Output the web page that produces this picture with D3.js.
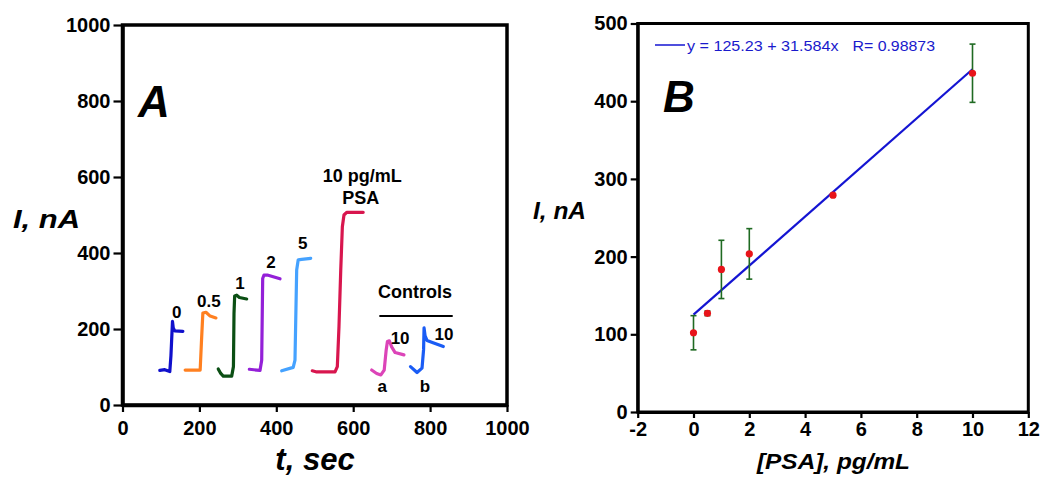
<!DOCTYPE html>
<html><head><meta charset="utf-8">
<script src="https://cdn.jsdelivr.net/npm/d3@7"></script>
<style>body{margin:0;background:#fff}svg{display:block}text{font-family:"Liberation Sans",Arial,sans-serif}</style>
</head><body>
<svg id="c" width="1050" height="489"></svg>
<script>
// ---------- Panel A data (t in sec, I in nA) ----------
const trace0   = [[97,91],[110,93],[123,88],[126,130],[130,220],[132,203],[136,195],[157,194]];
const trace05  = [[163,92],[202,92],[205.5,170],[209,242],[217,244],[228,234],[243,229]];
const trace1   = [[249,95],[255.5,83],[262,76],[284,76],[288.5,101],[290,241],[291.7,287],[297,289],[304,283],[323,279]];
const trace2   = [[330,94],[357.6,91],[362,118],[364.6,333],[368,342],[376.6,342],[409.6,332]];
const trace5   = [[414,90],[444,99],[448.6,118],[453,355],[457,382],[466,383],[489.5,386]];
const trace10  = [[493.6,90],[505,87],[552.7,87],[558.7,101],[563,206],[567.6,355],[571.8,469],[576,500],[583,507],[626,507]];
const controlA = [[648,92],[661,83],[672,79],[680.6,92],[685.8,145],[689,167],[694,169],[700,153],[709,138],[732,132]];
const controlB = [[749,101],[766,85.5],[779,97],[783,145],[784.3,203],[787,182],[792,170],[807.6,164],[834.4,154]];
const traceColors = ["#1010cc","#ff8020","#0b4f14","#9420d8","#45a2ff","#d8164e","#dc44b8","#1a5cf5"];
const traces = [trace0,trace05,trace1,trace2,trace5,trace10,controlA,controlB];
const traceLabels = [["0",141,228],["0.5",224.5,257],["1",305.6,304.5],["2",386,360],["5",468.7,410],
  ["10 pg/mL",623.7,587.6],["PSA",619.5,529],["Controls",760.7,281],["10",722,160.5],["10",836,171],["a",675.7,33.4],["b",786.7,33.7]];
const controlsRule = [[668,234],[858.8,234]];
const tTicks = [0,200,400,600,800,1000];
const iTicksA = [0,200,400,600,800,1000];

// ---------- Panel B data ----------
const psaConc = [0,0.5,1,2,5,10];
const psaCurrent = [102,127,183.5,203.5,279,436];
const psaError = [22,3,37.5,32.5,2,37.5];
const fitIntercept = 125.23, fitSlope = 31.584;
const fitRange = [0,10];
const psaTicks = [-2,0,2,4,6,8,10,12];
const iTicksB = [0,100,200,300,400,500];

const svg = d3.select("#c");
svg.append("rect").attr("width",1050).attr("height",489).attr("fill","#fff");

function styleAxis(g, w){
  g.select(".domain").attr("stroke","#000").attr("stroke-width",w);
  g.selectAll(".tick line").attr("stroke","#000").attr("stroke-width",2.2);
  g.selectAll(".tick text").attr("fill","#000").attr("font-weight","bold").attr("font-size",20)
   .attr("font-family","'Liberation Sans',Arial,sans-serif");
}
const plain = d => String(d);

// ================= Panel A =================
const xA = d3.scaleLinear().domain([0,1000]).range([122.5,507]);
const yA = d3.scaleLinear().domain([0,1000]).range([405,25]);
const A = svg.append("g");
A.append("rect").attr("x",xA(0)).attr("y",yA(1000)).attr("width",xA(1000)-xA(0)).attr("height",yA(0)-yA(1000))
  .attr("fill","none").attr("stroke","#000").attr("stroke-width",3.5);
const gxA = A.append("g").attr("transform",`translate(0,${yA(0)})`)
  .call(d3.axisBottom(xA).tickValues(tTicks).tickSize(7).tickSizeOuter(0).tickPadding(9).tickFormat(plain));
styleAxis(gxA,3.5);
const gyA = A.append("g").attr("transform",`translate(${xA(0)},0)`)
  .call(d3.axisLeft(yA).tickValues(iTicksA).tickSize(9).tickSizeOuter(0).tickPadding(3).tickFormat(plain));
styleAxis(gyA,3.5);

const lineA = d3.line().x(d=>xA(d[0])).y(d=>yA(d[1])).curve(d3.curveLinear);
traces.forEach((tr,i)=>{
  A.append("path").attr("d",lineA(tr)).attr("fill","none").attr("stroke",traceColors[i])
   .attr("stroke-width",3.2).attr("stroke-linejoin","round").attr("stroke-linecap","round");
});
A.append("path").attr("d",lineA(controlsRule)).attr("stroke","#000").attr("stroke-width",2);
traceLabels.forEach(l=>{
  A.append("text").attr("x",xA(l[1])).attr("y",yA(l[2])).attr("text-anchor","middle")
   .attr("font-weight","bold").attr("font-size", (l[0]==="Controls"||l[0]==="10 pg/mL"||l[0]==="PSA")?18:17).text(l[0]);
});
A.append("text").attr("x",138).attr("y",116.5).attr("font-size",44).attr("font-weight","bold").attr("font-style","italic").text("A");
A.append("text").attr("x",315).attr("y",470).attr("text-anchor","middle").attr("font-size",31)
  .attr("font-weight","bold").attr("font-style","italic").text("t, sec");
A.append("text").attr("x",13).attr("y",228).attr("font-size",26).attr("font-weight","bold").attr("font-style","italic")
  .attr("textLength",67).attr("lengthAdjust","spacingAndGlyphs").text("I, nA");

// ================= Panel B =================
const xB = d3.scaleLinear().domain([-2,12]).range([637.7,1028.3]);
const yB = d3.scaleLinear().domain([0,500]).range([412,23.5]);
const B = svg.append("g");
B.append("rect").attr("x",xB(-2)).attr("y",yB(500)).attr("width",xB(12)-xB(-2)).attr("height",yB(0)-yB(500))
  .attr("fill","none").attr("stroke","#000").attr("stroke-width",3);
const gxB = B.append("g").attr("transform",`translate(0,${yB(0)})`)
  .call(d3.axisBottom(xB).tickValues(psaTicks).tickSize(6).tickSizeOuter(0).tickPadding(4).tickFormat(plain));
styleAxis(gxB,3);
const gyB = B.append("g").attr("transform",`translate(${xB(-2)},0)`)
  .call(d3.axisLeft(yB).tickValues(iTicksB).tickSize(7).tickSizeOuter(0).tickPadding(3).tickFormat(plain));
styleAxis(gyB,3);

// fit line
B.append("line").attr("x1",xB(fitRange[0])).attr("y1",yB(fitIntercept+fitSlope*fitRange[0]))
  .attr("x2",xB(fitRange[1])).attr("y2",yB(fitIntercept+fitSlope*fitRange[1]))
  .attr("stroke","#1414d2").attr("stroke-width",2.2);
// error bars
psaConc.forEach((c,i)=>{
  const x = xB(c), y1 = yB(psaCurrent[i]-psaError[i]), y2 = yB(psaCurrent[i]+psaError[i]);
  const g = B.append("g").attr("stroke","#1f6a22").attr("stroke-width",1.6);
  g.append("line").attr("x1",x).attr("x2",x).attr("y1",y1).attr("y2",y2);
  g.append("line").attr("x1",x-3).attr("x2",x+3).attr("y1",y1).attr("y2",y1);
  g.append("line").attr("x1",x-3).attr("x2",x+3).attr("y1",y2).attr("y2",y2);
});
B.selectAll("circle.pt").data(psaConc).join("circle").attr("class","pt")
  .attr("cx",d=>xB(d)).attr("cy",(d,i)=>yB(psaCurrent[i])).attr("r",3.6).attr("fill","#e8141a");

// legend
B.append("line").attr("x1",655).attr("x2",685).attr("y1",45).attr("y2",45).attr("stroke","#1414d2").attr("stroke-width",1.5);
B.append("text").attr("x",687).attr("y",50.5).attr("font-size",14.5).attr("fill","#1a1acc")
  .attr("textLength",151.5).attr("lengthAdjust","spacingAndGlyphs").text("y = 125.23 + 31.584x");
B.append("text").attr("x",852.5).attr("y",50.5).attr("font-size",14.5).attr("fill","#1a1acc")
  .attr("textLength",82.5).attr("lengthAdjust","spacingAndGlyphs").text("R= 0.98873");

B.append("text").attr("x",663).attr("y",111.5).attr("font-size",44).attr("font-weight","bold").attr("font-style","italic").text("B");
B.append("text").attr("x",757).attr("y",469).attr("font-size",22)
  .attr("font-weight","bold").attr("font-style","italic")
  .attr("textLength",153).attr("lengthAdjust","spacingAndGlyphs").text("[PSA], pg/mL");
B.append("text").attr("x",533).attr("y",219).attr("font-size",24).attr("font-weight","bold").attr("font-style","italic")
  .attr("textLength",53).attr("lengthAdjust","spacingAndGlyphs").text("I, nA");
</script>
</body></html>
